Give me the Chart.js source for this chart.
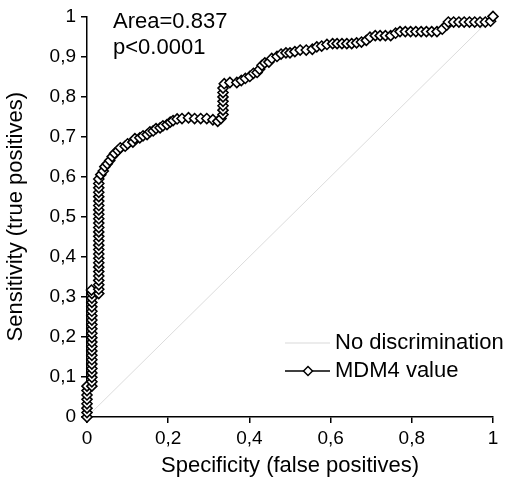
<!DOCTYPE html>
<html>
<head>
<meta charset="utf-8">
<script src="https://cdn.jsdelivr.net/npm/chart.js@4/dist/chart.umd.min.js"></script>
<style>
  html, body { margin: 0; padding: 0; background: #fff; }
  #wrap { width: 511px; height: 484px; position: relative; }
</style>
</head>
<body>
<div id="wrap"><canvas id="c" width="511" height="484"></canvas></div>
<script>
// ROC curve (false positive rate, true positive rate)
const fprValues = [
  0, 0, 0, 0, 0, 0, 0, 0,
  0.012, 0.012, 0.012, 0.012, 0.012, 0.012, 0.012, 0.012, 0.012, 0.012, 0.012, 0.012,
  0.012, 0.012, 0.012, 0.012, 0.012, 0.012, 0.012, 0.012, 0.012, 0.012, 0.011,
  0.029, 0.029, 0.029, 0.029, 0.029, 0.029, 0.029, 0.029, 0.029, 0.029, 0.029, 0.029,
  0.029, 0.029, 0.029, 0.029, 0.029, 0.029, 0.029, 0.029, 0.029, 0.029, 0.029, 0.029,
  0.029, 0.029, 0.029,
  0.034, 0.040, 0.044, 0.050, 0.056, 0.062, 0.068, 0.076, 0.082, 0.094, 0.100, 0.113,
  0.118, 0.130, 0.138, 0.148, 0.155, 0.163, 0.170, 0.180, 0.187, 0.197, 0.205, 0.212,
  0.222, 0.234, 0.250, 0.265, 0.280, 0.295, 0.310, 0.322, 0.330,
  0.335, 0.335, 0.335, 0.335, 0.335, 0.335, 0.335, 0.338,
  0.352, 0.369, 0.380, 0.390, 0.401, 0.410, 0.419, 0.425, 0.431, 0.438, 0.448, 0.455,
  0.468, 0.478, 0.490, 0.500, 0.512, 0.525, 0.540, 0.555, 0.566, 0.578, 0.591, 0.605,
  0.616, 0.628, 0.640, 0.652, 0.664, 0.676, 0.688, 0.697, 0.710, 0.722, 0.735, 0.748,
  0.760, 0.771, 0.784, 0.797, 0.810, 0.823, 0.836, 0.849, 0.862, 0.875, 0.886, 0.890,
  0.903, 0.916, 0.929, 0.942, 0.955, 0.968, 0.981, 0.994, 1.000
];
const tprValues = [
  0, 0.011, 0.022, 0.033, 0.044, 0.055, 0.066, 0.077,
  0.077, 0.088, 0.099, 0.110, 0.121, 0.132, 0.143, 0.154, 0.165, 0.176, 0.187, 0.198,
  0.209, 0.220, 0.231, 0.242, 0.253, 0.264, 0.275, 0.286, 0.297, 0.308, 0.317,
  0.308, 0.319, 0.330, 0.341, 0.352, 0.363, 0.374, 0.385, 0.396, 0.407, 0.418, 0.429,
  0.440, 0.451, 0.462, 0.473, 0.484, 0.495, 0.506, 0.517, 0.528, 0.539, 0.550, 0.561,
  0.572, 0.583, 0.594,
  0.605, 0.614, 0.625, 0.632, 0.640, 0.650, 0.658, 0.665, 0.672, 0.676, 0.682, 0.686,
  0.695, 0.697, 0.702, 0.705, 0.712, 0.714, 0.720, 0.722, 0.727, 0.730, 0.736, 0.740,
  0.744, 0.745, 0.747, 0.745, 0.745, 0.745, 0.742, 0.738, 0.745,
  0.755, 0.766, 0.777, 0.788, 0.799, 0.810, 0.821, 0.832,
  0.835, 0.835, 0.840, 0.845, 0.850, 0.858, 0.860, 0.868, 0.878, 0.884, 0.886, 0.895,
  0.900, 0.906, 0.909, 0.909, 0.912, 0.916, 0.916, 0.918, 0.924, 0.926, 0.930, 0.932,
  0.932, 0.932, 0.932, 0.932, 0.934, 0.936, 0.940, 0.948, 0.952, 0.952, 0.952, 0.952,
  0.958, 0.962, 0.962, 0.962, 0.962, 0.962, 0.962, 0.962, 0.962, 0.968, 0.978, 0.986,
  0.986, 0.986, 0.986, 0.986, 0.986, 0.986, 0.986, 0.988, 1.000
];
// Reference line (no discrimination)
const diagX = [0, 1];
const diagY = [0, 1];

const seriesNames = ['MDM4 value', 'No discrimination'];
const annotationLines = ['Area=0.837', 'p<0.0001'];
const xTitle = 'Specificity (false positives)';
const yTitle = 'Sensitivity (true positives)';

const FONT = "'Liberation Sans', Arial, sans-serif";

const rocData = fprValues.map((x, i) => ({ x: x, y: tprValues[i] }));
const diagData = diagX.map((x, i) => ({ x: x, y: diagY[i] }));

function fmt(v) {
  if (Math.abs(v) < 1e-9) return '0';
  if (Math.abs(v - 1) < 1e-9) return '1';
  return (+v.toFixed(1)).toString().replace('.', ',');
}

const overlay = {
  id: 'overlay',
  afterDraw(chart) {
    const ctx = chart.ctx;
    ctx.save();
    ctx.fillStyle = '#000';
    ctx.font = '22px ' + FONT;
    ctx.textAlign = 'left';
    ctx.textBaseline = 'alphabetic';
    ctx.fillText(annotationLines[0], 113, 28);
    ctx.fillText(annotationLines[1], 113, 54);

    // legend
    const lx0 = 285, lx1 = 330, tx = 335;
    const y1 = 343, y2 = 371;
    ctx.strokeStyle = '#d9d9d9';
    ctx.lineWidth = 1;
    ctx.beginPath(); ctx.moveTo(lx0, y1); ctx.lineTo(lx1, y1); ctx.stroke();
    ctx.strokeStyle = '#000';
    ctx.lineWidth = 1.5;
    ctx.beginPath(); ctx.moveTo(lx0, y2); ctx.lineTo(lx1, y2); ctx.stroke();
    const cx = 308, r = 4.5;
    ctx.fillStyle = '#fff';
    ctx.beginPath();
    ctx.moveTo(cx - r, y2); ctx.lineTo(cx, y2 - r); ctx.lineTo(cx + r, y2); ctx.lineTo(cx, y2 + r); ctx.closePath();
    ctx.fill(); ctx.stroke();
    ctx.fillStyle = '#000';
    ctx.textBaseline = 'middle';
    ctx.fillText(seriesNames[1], tx, y1);
    ctx.fillText(seriesNames[0], tx, y2);
    ctx.restore();
  }
};

new Chart(document.getElementById('c'), {
  type: 'scatter',
  data: {
    datasets: [
      {
        label: seriesNames[0],
        data: rocData,
        showLine: true,
        clip: false,
        borderColor: '#000',
        borderWidth: 1.6,
        pointStyle: 'rectRot',
        pointRadius: 5,
        pointBackgroundColor: '#fff',
        pointBorderColor: '#000',
        pointBorderWidth: 1.6,
        tension: 0,
        order: 0
      },
      {
        label: seriesNames[1],
        data: diagData,
        showLine: true,
        borderColor: '#dcdcdc',
        borderWidth: 1,
        pointRadius: 0,
        order: 1
      }
    ]
  },
  options: {
    responsive: false,
    animation: false,
    devicePixelRatio: 1,
    layout: { padding: { left: 0, right: 18, top: 11, bottom: 0 } },
    plugins: { legend: { display: false }, tooltip: { enabled: false } },
    scales: {
      x: {
        type: 'linear',
        min: 0, max: 1,
        afterFit(s) { s.height = 67; },
        ticks: {
          stepSize: 0.2, color: '#000', padding: 4,
          font: { family: FONT, size: 19 },
          callback: v => fmt(v), maxRotation: 0
        },
        grid: { display: true, drawOnChartArea: false, drawTicks: true, tickLength: 6, color: '#000', lineWidth: 1.5 },
        border: { display: true, color: '#000', width: 1.5 },
        title: { display: true, text: xTitle, color: '#000', font: { family: FONT, size: 22 }, padding: { top: 0, bottom: 5 } }
      },
      y: {
        type: 'linear',
        min: 0, max: 1,
        afterFit(s) { s.width = 87; },
        ticks: {
          stepSize: 0.1, color: '#000', padding: 5,
          font: { family: FONT, size: 19 },
          callback: v => fmt(v)
        },
        grid: { display: true, drawOnChartArea: false, drawTicks: true, tickLength: 6, color: '#000', lineWidth: 1.5 },
        border: { display: true, color: '#000', width: 1.5 },
        title: { display: true, text: yTitle, color: '#000', font: { family: FONT, size: 22 }, padding: { top: 3, bottom: 0 } }
      }
    }
  },
  plugins: [overlay]
});
</script>
</body>
</html>
